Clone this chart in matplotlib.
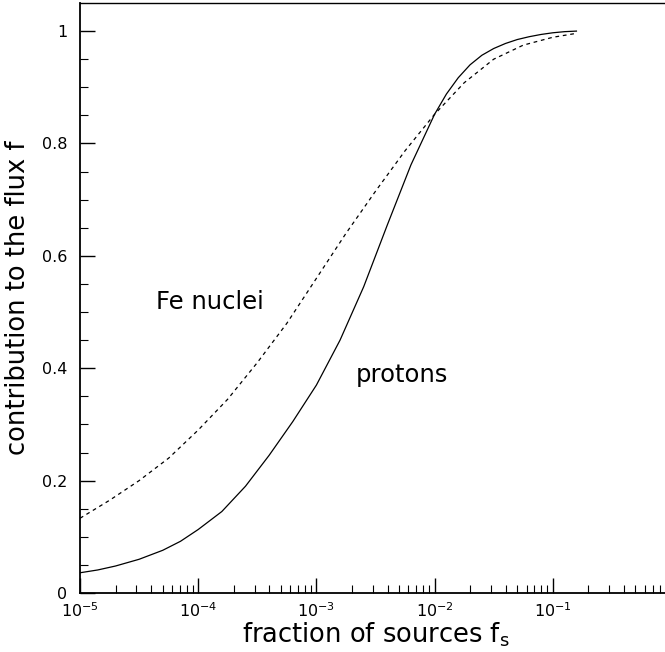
import numpy as np
import matplotlib.pyplot as plt
from matplotlib.ticker import FixedLocator, LogLocator, NullFormatter

plt.rcParams['font.family'] = ['DejaVu Sans']
plt.rcParams['mathtext.fontset'] = 'dejavusans'

# log10 of fraction of sources
logx_protons = [-5.0, -4.85, -4.7, -4.5, -4.3, -4.15, -4.0, -3.8, -3.6, -3.4, -3.2, -3.0,
                -2.8, -2.6, -2.4, -2.2, -2.0, -1.9, -1.8, -1.7, -1.6, -1.5, -1.4,
                -1.3, -1.2, -1.1, -1.0, -0.9, -0.8]
y_protons = [0.036, 0.041, 0.048, 0.060, 0.076, 0.092, 0.113, 0.145, 0.19, 0.245, 0.305,
             0.37, 0.45, 0.545, 0.655, 0.762, 0.852, 0.888, 0.917, 0.94, 0.957,
             0.969, 0.978, 0.985, 0.99, 0.994, 0.997, 0.999, 1.0]

logx_fe = [-5.0, -4.75, -4.5, -4.25, -4.0, -3.75, -3.5, -3.25, -3.0, -2.75,
           -2.5, -2.25, -2.0, -1.75, -1.5, -1.25, -1.0, -0.8]
y_fe = [0.133, 0.165, 0.20, 0.24, 0.29, 0.345, 0.41, 0.48, 0.56, 0.64,
        0.715, 0.787, 0.852, 0.908, 0.95, 0.975, 0.989, 0.996]

yticks = [0, 0.2, 0.4, 0.6, 0.8, 1.0]
ytick_labels = ['0', '0.2', '0.4', '0.6', '0.8', '1']

fig = plt.figure(figsize=(6.65, 6.52), dpi=100)
ax = fig.add_axes([80/665, 59/652, 591/665, 590/652])

ax.plot(10**np.array(logx_protons), y_protons, color='black', lw=0.9)
ax.plot(10**np.array(logx_fe), y_fe, color='black', lw=0.9, linestyle=(0, (3, 3)))

ax.set_xscale('log')
ax.set_xlim(1e-5, 1)
ax.set_ylim(0, 1.05)

ax.set_yticks(yticks)
ax.set_yticklabels(ytick_labels)
ax.yaxis.set_minor_locator(FixedLocator(np.arange(0, 1.05, 0.05)))
ax.xaxis.set_major_locator(FixedLocator([1e-5, 1e-4, 1e-3, 1e-2, 1e-1]))
ax.set_xticklabels(['$10^{-5}$', '$10^{-4}$', '$10^{-3}$', '$10^{-2}$', '$10^{-1}$'])
ax.xaxis.set_minor_locator(LogLocator(base=10, subs=np.arange(2, 10), numticks=20))
ax.xaxis.set_minor_formatter(NullFormatter())

ax.tick_params(which='both', direction='in', top=False, right=False, labelsize=11.5)
ax.tick_params(axis='x', pad=6)
ax.tick_params(axis='y', pad=9)
ax.tick_params(which='major', length=11, width=1)
ax.tick_params(which='minor', length=6, width=0.8)

for s in ['left', 'bottom']:
    ax.spines[s].set_linewidth(1.3)
ax.spines['top'].set_linewidth(1.0)

ax.set_xlabel(r'fraction of sources f$_\mathrm{s}$', fontsize=18.5, labelpad=0)
ax.set_ylabel('contribution to the flux f', fontsize=18.5, labelpad=8)

ax.text(10**-4.36, 0.518, 'Fe nuclei', fontsize=17.5, va='center', ha='left')
ax.text(10**-2.67, 0.388, 'protons', fontsize=17.5, va='center', ha='left')

plt.savefig('out.png', dpi=100, facecolor='white')
